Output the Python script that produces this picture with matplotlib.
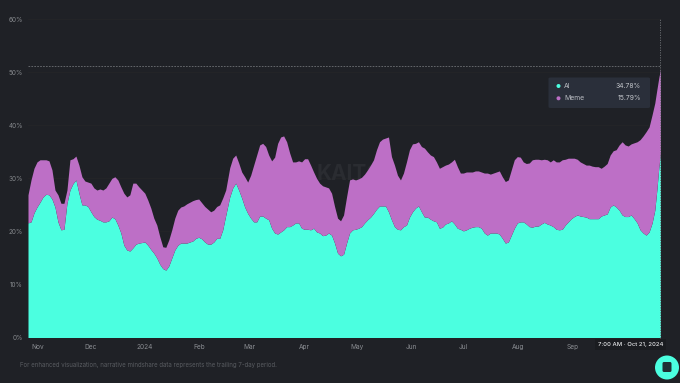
import matplotlib
matplotlib.use('Agg')
import matplotlib.pyplot as plt
from matplotlib.patches import FancyBboxPatch, Circle
import pandas as pd

plt.rcParams['font.family'] = ['Inter', 'DejaVu Sans']

# AI share (%), before and after the small gap in sampling
ai_a = [21.6,21.8,23.5,24.6,25.5,26.5,27,26.9,26.1,24.6,21.8,20.3,20.4,25.3,27.8,29,29.7,27.2,25,25,
        24.7,23.7,22.8,22.3,22.1,21.8,21.8,22,22.7,22.4,21.2,19.7,17.4,16.5,16.3,16.9,17.6,17.8,17.9,18,
        17.4,16.6,15.9,15,13.8,13,12.7,13.5,15,16.5,17.4,17.8,17.8,17.8,18,18.2,18.7,18.9,18.6,18,
        17.6,17.6,18,18.7,18.7,20.3,23]
ai_b = [26.5,28.2,29.1,27.8,26.3,24.6,23.4,22.5,21.8,21.8,22.9,22.9,22.5,22.2,20.6,19.7,19.5,19.9,20.3,20.9,
        20.9,21.2,21.6,21.6,20.6,20.4,20.4,20.3,20.6,19.9,19.7,19.2,19.3,19.7,19.3,17.8,15.9,15.4,15.7,17.8,
        19.7,20.3,20.4,20.6,20.9,21.6,22.2,22.7,23.4,24.2,24.8,24.8,24.8,23.7,22.2,20.9,20.4,20.3,20.9,21.2,
        22.7,23.7,24.4,24.8,23.7,22.7,22.7,22.3,22,21.8,20.6,20.8,21.4,21.6,22,21.4,20.6,20.4,20.1,20.3,
        20.6,20.8,20.9,20.9,20.6,19.7,19.3,19.7,19.7,19.7,19.5,18.7,17.8,18,19.3,20.6,21.6,21.8,21.8,21.4,
        20.9,20.8,21,21,21.4,21.7,21.4,21.2,20.9,20.4,20.3,20.4,21.2,21.8,22.4,22.8,23.1,22.9,22.8,22.7,
        22.4,22.4,22.4,22.4,22.9,23.1,23.3,24.6,25,24.6,24,23.1,22.8,22.8,23.1,22.4,21.6,20.3,19.7,19.3,
        19.9,21.6]
ai_end = [24,27.8,32,34.78]

# top of the stack (AI + Meme, %)
top_a = [26.9,29.7,31.9,33.1,33.5,33.5,33.5,33.3,31.6,27.8,26.9,25.3,25.3,27.8,33.5,33.7,34.2,32.5,30.3,29.5,
         29.3,29.1,28.2,27.8,28,27.8,28.2,29.1,30,30.3,29.7,28.4,27.2,26.5,26.9,29.1,29.1,28.4,27.8,27.2,
         25.9,24.4,22.5,21.2,19,17.1,17,18.4,20.3,22.5,24,24.6,24.8,25.2,25.5,25.8,26,26.1,25.4,24.7,
         24.2,23.7,24,24.7,25,26.3,27.8]
top_b = [32,33.8,34.4,32.9,31.2,30.3,29.3,30.6,32.5,34.4,36.3,36.6,36,34.4,33.3,34,36.6,37.8,38,36.9,
         34.8,33.1,33.1,33.3,33.1,33.7,33.7,32.5,31.2,30,29.1,28.6,28.4,28.2,27.2,24.7,22.5,22,23.1,26.5,
         29.7,29.9,29.7,29.9,30.2,30.8,31.6,32.5,33.5,35.4,36.9,37.4,37.6,37.8,34.1,32.5,30.6,29.7,31,33.1,
         35.4,36.5,36.6,36.9,36,35.7,35,34.4,34.1,33.1,31.9,32.2,32.5,32.7,33.1,33.6,32.2,31,31,31.2,
         31.2,31.2,31.4,31.4,31.2,31,31,30.8,31,31.2,31.4,30.3,29.4,29.7,31.6,33.5,34.1,34,33.1,32.8,
         32.9,33.5,33.6,33.6,33.5,33.6,33.5,33.1,33.5,33.1,33.1,33.5,33.6,33.8,33.8,33.8,33.6,33.1,32.8,32.5,
         32.5,32.3,32.2,32.2,31.9,32.3,32.8,34.4,35.2,35.4,36.3,36.9,36.3,36.1,36.5,36.7,36.9,37.3,38,38.8,
         39.7,42]
top_end = [44.2,46.7,49,50.57]

end_dates = ['2024-10-18 01:00', '2024-10-19 05:00', '2024-10-20 08:00', '2024-10-21 07:00']
month_ticks = ['2023-11-01','2023-12-01','2024-01-01','2024-02-01','2024-03-01','2024-04-01',
               '2024-05-01','2024-06-01','2024-07-01','2024-08-01','2024-09-01']
month_labels = ['Nov','Dec','2024','Feb','Mar','Apr','May','Jun','Jul','Aug','Sep']
y_ticks = [0,10,20,30,40,50,60]

ai = ai_a + ai_b + ai_end
top = top_a + top_b + top_end

start = pd.Timestamp('2023-10-26 14:00')
d1 = pd.date_range(start, periods=len(ai_a), freq='41h')
d2 = pd.date_range(d1[-1] + pd.Timedelta(hours=55), periods=len(ai_b), freq='41h')
dates = d1.append(d2).append(pd.to_datetime(end_dates))

bg = '#1f2126'
teal = '#4bffe0'
pink = '#bd6fc6'

fig = plt.figure(figsize=(6.8, 3.83), dpi=100, facecolor=bg)
ax = fig.add_axes([28/680, (383-337.5)/383, 632.5/680, 318.3/383], facecolor=bg)

ax.fill_between(dates, 0, ai, color=teal, lw=0, zorder=2)
ax.fill_between(dates, ai, top, color=pink, lw=0, zorder=2)

ax.set_xlim(dates[0], dates[-1])
ax.set_ylim(0, 60)
ax.set_yticks(y_ticks)
ax.set_yticklabels([f'{v}%' for v in y_ticks], fontsize=4.6, color='#85888c')
ax.set_xticks(pd.to_datetime(month_ticks))
ax.set_xticklabels(month_labels, fontsize=4.7, color='#8b8e93')
ax.tick_params(length=0, pad=4.5)
ax.tick_params(axis='y', pad=3.5)
ax.grid(axis='y', color='#262628', lw=0.5, zorder=1)
ax.set_axisbelow(True)
for s in ax.spines.values():
    s.set_visible(False)

# crosshair at the hovered point
ax.axhline(51.1, color='#6f7276', lw=0.6, ls=(0, (2, 1.5)), zorder=4)
ax.axvline(dates[-1], color='#6f7276', lw=0.6, ls=(0, (1.5, 1.5)), zorder=4, clip_on=False)

# watermark sits behind the areas
ax.text(pd.Timestamp('2024-04-27'), 30.8, 'KAITO', color='#2a2c31', fontsize=15, fontweight='bold',
        ha='center', va='center', zorder=1.5)

# tooltip, in pixels of the figure
def fx(px):
    return px/680
def fy(py):
    return 1-py/383

fig.add_artist(FancyBboxPatch((fx(548.5), fy(108)), 101.5/680, 30.5/383, boxstyle='round,pad=0,rounding_size=0.003',
                              fc='#2a2f3a', ec='none', transform=fig.transFigure))
fig.add_artist(Circle((558.5, 383-86), 2, fc=teal, ec='none', transform=None))
fig.add_artist(Circle((558.5, 383-98.3), 2, fc=pink, ec='none', transform=None))
fig.text(fx(564), fy(86), 'AI', fontsize=4.9, color='#b9bcc2', va='center')
fig.text(fx(564), fy(98.3), 'Meme', fontsize=4.9, color='#b9bcc2', va='center')
fig.text(fx(641), fy(86), '34.78%', fontsize=4.9, color='#c4c7cc', va='center', ha='right')
fig.text(fx(641), fy(98.3), '15.79%', fontsize=4.9, color='#c4c7cc', va='center', ha='right')

# hover date under the axis
fig.text(fx(630.5), fy(344.5), '7:00 AM · Oct 21, 2024', fontsize=4.3, color='#e4e5e7', ha='center', va='center',
         fontweight='medium', bbox=dict(fc='#1a1c20', ec='none', pad=2), zorder=6)

fig.text(fx(20), fy(364.7), 'For enhanced visualization, narrative mindshare data represents the trailing 7-day period.',
         fontsize=4.4, color='#585b60', va='center')

# help button, bottom right
fig.add_artist(Circle((667, 383-367.5), 12, fc=teal, ec='none', transform=None))
fig.add_artist(FancyBboxPatch((662.5, 383-372), 9, 10, boxstyle='round,pad=0,rounding_size=1.5',
                              fc='#1f2f33', ec='none', transform=None))

fig.savefig('out.png', dpi=100, facecolor=bg)
